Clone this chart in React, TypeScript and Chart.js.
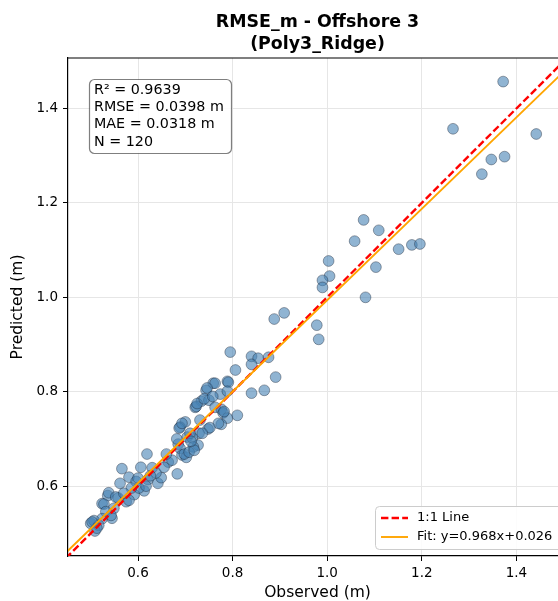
import React, { useEffect, useRef } from "react";
import { Chart, registerables } from "chart.js";

Chart.register(...registerables);

// ---- data ----
const observed: number[] = [
  1.372, 1.266, 1.442, 1.347, 1.375, 1.327, 1.077, 1.109, 1.058, 1.151, 1.179, 1.196,
  1.003, 1.005, 0.990, 0.990, 1.103, 1.081, 0.909, 0.888, 0.978, 0.982,
  0.795, 0.840, 0.854, 0.876, 0.840, 0.806, 0.891, 0.759, 0.763, 0.789, 0.791, 0.744,
  0.774, 0.789, 0.840, 0.867, 0.734, 0.750, 0.721, 0.723, 0.763, 0.776, 0.780, 0.789,
  0.810, 0.731, 0.776, 0.700, 0.689, 0.687, 0.748, 0.729, 0.704, 0.715, 0.727, 0.685,
  0.689, 0.717, 0.619, 0.693, 0.702,
  0.566, 0.606, 0.630, 0.664, 0.683, 0.581, 0.562, 0.596, 0.621, 0.642, 0.649, 0.613,
  0.592, 0.575, 0.558, 0.536, 0.524, 0.528, 0.549, 0.532, 0.545, 0.524, 0.500, 0.507,
  0.517, 0.509,
  0.600, 0.638, 0.698, 0.708, 0.719, 0.710, 0.538, 0.553, 0.581, 0.602, 0.617, 0.503,
  0.513, 0.543, 0.746, 0.725, 0.740, 0.782, 0.770, 0.693, 0.752, 0.736, 0.712, 0.758,
  0.655, 0.672, 0.626, 0.586, 0.570, 0.660, 0.682,
];

const predicted: number[] = [
  1.457, 1.357, 1.346, 1.292, 1.298, 1.261, 1.164, 1.142, 1.119, 1.102, 1.111, 1.113,
  1.077, 1.045, 1.036, 1.021, 1.064, 1.000, 0.967, 0.954, 0.941, 0.911,
  0.884, 0.875, 0.871, 0.873, 0.858, 0.846, 0.831, 0.818, 0.818, 0.822, 0.820, 0.803,
  0.795, 0.801, 0.797, 0.803, 0.780, 0.782, 0.767, 0.769, 0.767, 0.763, 0.755, 0.744,
  0.750, 0.740, 0.731, 0.736, 0.725, 0.723, 0.721, 0.712, 0.704, 0.702, 0.687, 0.689,
  0.680, 0.683, 0.668, 0.666, 0.661,
  0.637, 0.640, 0.639, 0.651, 0.626, 0.619, 0.606, 0.610, 0.614, 0.606, 0.618, 0.590,
  0.582, 0.567, 0.575, 0.580, 0.563, 0.562, 0.553, 0.546, 0.532, 0.531, 0.521, 0.527,
  0.517, 0.505,
  0.617, 0.628, 0.668, 0.672, 0.676, 0.712, 0.586, 0.577, 0.570, 0.596, 0.600, 0.524,
  0.511, 0.538, 0.808, 0.775, 0.785, 0.758, 0.733, 0.733, 0.724, 0.712, 0.695, 0.790,
  0.640, 0.655, 0.622, 0.596, 0.585, 0.668, 0.700,
];

const axisMin = 0.452;
const axisMax = 1.507;
const tickValues: number[] = [0.6, 0.8, 1.0, 1.2, 1.4];
const fitSlope = 0.968;
const fitIntercept = 0.026;
const titleLines: string[] = ["RMSE_m - Offshore 3", "(Poly3_Ridge)"];
const statsLines: string[] = ["R² = 0.9639", "RMSE = 0.0398 m", "MAE = 0.0318 m", "N = 120"];
const legendLabels: string[] = ["1:1 Line", "Fit: y=0.968x+0.026"];
const xTitle = "Observed (m)";
const yTitle = "Predicted (m)";

const FONT = "'DejaVu Sans', sans-serif";
const CANVAS_W = 580;
const CANVAS_H = 601;

// reference lines drawn on top of the scatter, through the chart's own scales
const refLinesPlugin = {
  id: "refLines",
  afterDatasetsDraw(chart: any) {
    const ctx: CanvasRenderingContext2D = chart.ctx;
    const a = chart.chartArea;
    const xs = chart.scales.x;
    const ys = chart.scales.y;
    const lo = axisMin - 0.1;
    const hi = axisMax + 0.1;
    ctx.save();
    ctx.beginPath();
    ctx.rect(a.left, a.top, a.right - a.left, a.bottom - a.top);
    ctx.clip();

    // 1:1 line
    ctx.strokeStyle = "#ff0000";
    ctx.lineWidth = 2.4;
    ctx.setLineDash([7.4, 3.2]);
    ctx.beginPath();
    ctx.moveTo(xs.getPixelForValue(lo), ys.getPixelForValue(lo));
    ctx.lineTo(xs.getPixelForValue(hi), ys.getPixelForValue(hi));
    ctx.stroke();

    // fit line
    ctx.setLineDash([]);
    ctx.strokeStyle = "#ffa500";
    ctx.lineWidth = 1.9;
    ctx.beginPath();
    ctx.moveTo(xs.getPixelForValue(lo), ys.getPixelForValue(fitSlope * lo + fitIntercept));
    ctx.lineTo(xs.getPixelForValue(hi), ys.getPixelForValue(fitSlope * hi + fitIntercept));
    ctx.stroke();
    ctx.restore();
  },
};

const overlayPlugin = {
  id: "overlay",
  afterDraw(chart: any) {
    const ctx: CanvasRenderingContext2D = chart.ctx;
    const a = chart.chartArea;
    ctx.save();

    // top & right spines
    ctx.strokeStyle = "#000";
    ctx.lineWidth = 1.2;
    ctx.beginPath();
    ctx.moveTo(a.left, a.top);
    ctx.lineTo(a.right, a.top);
    ctx.lineTo(a.right, a.bottom);
    ctx.stroke();

    const cx = (a.left + a.right) / 2;

    // title
    ctx.fillStyle = "#000";
    ctx.textAlign = "center";
    ctx.textBaseline = "middle";
    ctx.font = `bold 17.4px ${FONT}`;
    ctx.fillText(titleLines[0], cx, 22);
    ctx.fillText(titleLines[1], cx, 44);

    // axis titles
    ctx.font = `15.5px ${FONT}`;
    ctx.fillText(xTitle, cx, 593);
    ctx.save();
    ctx.translate(18, (a.top + a.bottom) / 2);
    ctx.rotate(-Math.PI / 2);
    ctx.fillText(yTitle, 0, 0);
    ctx.restore();

    // stats box
    const bx = a.left + 21;
    const by = a.top + 21;
    const bw = 142;
    const bh = 74;
    ctx.beginPath();
    (ctx as any).roundRect(bx + 0.5, by + 0.5, bw, bh, 5);
    ctx.fillStyle = "rgba(255,255,255,0.85)";
    ctx.fill();
    ctx.strokeStyle = "rgba(0,0,0,0.5)";
    ctx.lineWidth = 1.2;
    ctx.stroke();
    ctx.fillStyle = "#000";
    ctx.textAlign = "left";
    ctx.textBaseline = "middle";
    ctx.font = `14.3px ${FONT}`;
    statsLines.forEach((t, i) => {
      ctx.fillText(t, bx + 5, by + 11 + i * 17.3);
    });

    // legend
    const lx = 375;
    const ly = 506;
    ctx.beginPath();
    (ctx as any).roundRect(lx + 0.5, ly + 0.5, 195, 43, 4);
    ctx.fillStyle = "rgba(255,255,255,0.85)";
    ctx.fill();
    ctx.strokeStyle = "#cccccc";
    ctx.lineWidth = 1;
    ctx.stroke();

    const row1 = 518;
    const row2 = 537;
    ctx.lineWidth = 2.4;
    ctx.strokeStyle = "#ff0000";
    ctx.setLineDash([7.4, 3.2]);
    ctx.beginPath();
    ctx.moveTo(381, row1);
    ctx.lineTo(408, row1);
    ctx.stroke();
    ctx.setLineDash([]);
    ctx.lineWidth = 1.9;
    ctx.strokeStyle = "#ffa500";
    ctx.beginPath();
    ctx.moveTo(381, row2);
    ctx.lineTo(408, row2);
    ctx.stroke();

    ctx.fillStyle = "#000";
    ctx.font = `13px ${FONT}`;
    ctx.fillText(legendLabels[0], 417, row1);
    ctx.fillText(legendLabels[1], 417, row2);

    ctx.restore();
  },
};

export default function App() {
  const canvasRef = useRef<HTMLCanvasElement | null>(null);

  useEffect(() => {
    if (!canvasRef.current) return;
    const points = observed.map((x, i) => ({ x, y: predicted[i] }));

    const chart = new Chart(canvasRef.current, {
      type: "scatter",
      data: {
        datasets: [
          {
            label: "points",
            data: points,
            backgroundColor: "rgba(70,130,180,0.6)",
            borderColor: "rgba(20,30,45,0.55)",
            borderWidth: 0.7,
            pointRadius: 5.4,
          },
        ],
      } as any,
      options: {
        responsive: false,
        animation: false,
        devicePixelRatio: 1,
        layout: { padding: { top: 58, left: 0, right: 13, bottom: 0 } },
        plugins: {
          legend: { display: false },
          tooltip: { enabled: false },
          title: { display: false },
        },
        scales: {
          x: {
            type: "linear",
            min: axisMin,
            max: axisMax,
            afterBuildTicks: (s: any) => {
              s.ticks = tickValues.map((v) => ({ value: v }));
            },
            afterFit: (s: any) => {
              s.height = 45;
            },
            ticks: {
              callback: (v: any) => Number(v).toFixed(1),
              font: { family: FONT, size: 13.5 },
              color: "#000",
              padding: 4,
              maxRotation: 0,
              autoSkip: false,
            },
            grid: {
              color: "#e6e6e6",
              lineWidth: 1,
              tickLength: 5,
              tickColor: "#000",
              drawTicks: true,
            },
            border: { color: "#000", width: 1.2 },
          },
          y: {
            type: "linear",
            min: axisMin,
            max: axisMax,
            afterBuildTicks: (s: any) => {
              s.ticks = tickValues.map((v) => ({ value: v }));
            },
            afterFit: (s: any) => {
              s.width = 68;
            },
            ticks: {
              callback: (v: any) => Number(v).toFixed(1),
              font: { family: FONT, size: 13.5 },
              color: "#000",
              padding: 5,
              autoSkip: false,
            },
            grid: {
              color: "#e6e6e6",
              lineWidth: 1,
              tickLength: 5,
              tickColor: "#000",
              drawTicks: true,
            },
            border: { color: "#000", width: 1.2 },
          },
        },
      } as any,
      plugins: [refLinesPlugin, overlayPlugin],
    });

    return () => {
      chart.destroy();
    };
  }, []);

  return (
    <div
      style={{
        position: "fixed",
        left: 0,
        top: 0,
        width: 558,
        height: 601,
        overflow: "hidden",
        background: "#fff",
      }}
    >
      <canvas
        ref={canvasRef}
        width={CANVAS_W}
        height={CANVAS_H}
        style={{ display: "block", width: CANVAS_W, height: CANVAS_H }}
      />
    </div>
  );
}
